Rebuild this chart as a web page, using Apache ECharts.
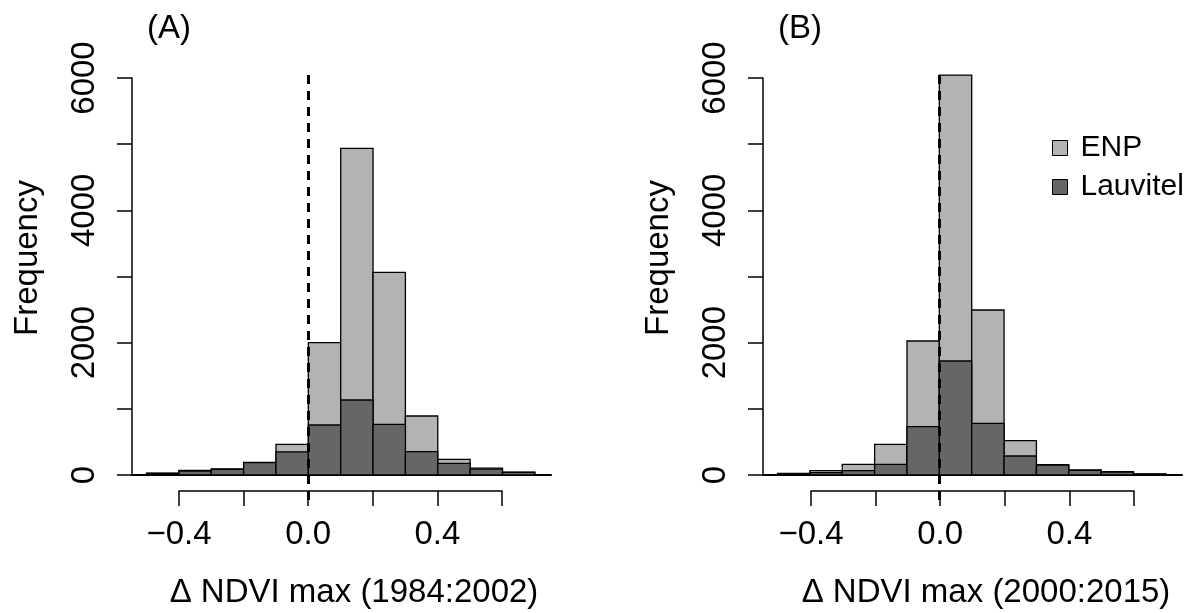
<!DOCTYPE html>
<html>
<head>
<meta charset="utf-8">
<script src="https://cdn.jsdelivr.net/npm/echarts@6/dist/echarts.min.js"></script>
<style>html,body{margin:0;padding:0;background:#fff;}#c{width:1199px;height:613px;}</style>
</head>
<body>
<div id="c"></div>
<script>
// ---- data ----
const binStarts = [-0.5, -0.4, -0.3, -0.2, -0.1, 0.0, 0.1, 0.2, 0.3, 0.4, 0.5, 0.6];
const binWidth = 0.1;
const enpA  = [28, 68, 90, 190, 463, 2000, 4935, 3062, 891, 237, 104, 44];
const lauvA = [22, 58, 84, 186, 350, 755, 1133, 765, 352, 176, 88, 38];
const enpB  = [25, 65, 161, 463, 2024, 6042, 2492, 519, 155, 75, 50, 15];
const lauvB = [18, 35, 65, 161, 730, 1722, 780, 287, 150, 70, 45, 12];
const yTicks = [0, 1000, 2000, 3000, 4000, 5000, 6000];
const yLabelled = [0, 2000, 4000, 6000];
const xTickLabels = { '-4': '\u22120.4', '0': '0.0', '4': '0.4' };
const panelLabels = ['(A)', '(B)'];
const xTitles = ['\u0394 NDVI max (1984:2002)', '\u0394 NDVI max (2000:2015)'];
const seriesNames = ['ENP', 'Lauvitel'];
const colors = ['#b3b3b3', '#666666'];

const FONT = "'Liberation Sans', Arial, Helvetica, sans-serif";
const FS = 33;

function toData(counts) {
  return binStarts.map((b, i) => [b, +(b + binWidth).toFixed(2), counts[i]]);
}

const chart = echarts.init(document.getElementById('c'), null, { renderer: 'canvas' });

const panels = [
  { left: 132, xl: 179, enp: enpA, lauv: lauvA, cx: 354 },
  { left: 763, xl: 811, enp: enpB, lauv: lauvB, cx: 986 }
];

const grid = [], xAxis = [], yAxis = [], series = [], graphic = [];

panels.forEach((p, k) => {
  const g0 = grid.length;
  // data grid (plot region)
  grid.push({ left: p.left, top: 70, width: 419, height: 430 });
  // y-axis-only grid (0..6000)
  grid.push({ left: p.left, top: 78, width: 419, height: 397 });
  // x-axis-only grid (offset axis)
  grid.push({ left: p.xl, top: 490, width: 323, height: 1 });

  xAxis.push({ type: 'value', gridIndex: g0, min: -0.545, max: 0.75,
    axisLine: { show: true, onZero: true, lineStyle: { color: '#000', width: 2 } },
    axisTick: { show: false }, axisLabel: { show: false }, splitLine: { show: false } });
  yAxis.push({ type: 'value', gridIndex: g0, min: -378, max: 6118, show: false, splitLine: { show: false } });

  xAxis.push({ type: 'value', gridIndex: g0 + 1, min: 0, max: 1, show: false });
  yAxis.push({ type: 'value', gridIndex: g0 + 1, min: 0, max: 6000, interval: 1000,
    axisLine: { show: true, lineStyle: { color: '#000', width: 1.5 } },
    axisTick: { show: true, length: 15, inside: false, lineStyle: { color: '#000', width: 1.5 } },
    axisLabel: { rotate: 90, margin: 31, color: '#000', fontSize: FS, fontFamily: FONT,
      formatter: v => yLabelled.includes(v) ? String(v) : '' },
    splitLine: { show: false } });

  xAxis.push({ type: 'value', gridIndex: g0 + 2, min: -0.4, max: 0.6, interval: 0.2, position: 'bottom',
    axisLine: { show: true, lineStyle: { color: '#000', width: 1.5 } },
    axisTick: { show: true, length: 15, inside: false, lineStyle: { color: '#000', width: 1.5 } },
    axisLabel: { margin: 27, color: '#000', fontSize: FS, fontFamily: FONT,
      formatter: v => xTickLabels[String(Math.round(v * 10))] || '' },
    splitLine: { show: false } });
  yAxis.push({ type: 'value', gridIndex: g0 + 2, min: 0, max: 1, show: false });

  const axIdx = xAxis.length - 3;
  [p.enp, p.lauv].forEach((counts, j) => {
    const s = {
      name: seriesNames[j], type: 'custom', xAxisIndex: axIdx, yAxisIndex: axIdx,
      data: toData(counts), encode: { x: [0, 1], y: 2 },
      itemStyle: { color: colors[j], borderColor: '#000', borderWidth: 1.2 },
      z: 2 + j, silent: true,
      renderItem: (params, api) => {
        const a = api.coord([api.value(0), api.value(2)]);
        const b = api.coord([api.value(1), 0]);
        return { type: 'rect',
          shape: { x: a[0], y: a[1], width: b[0] - a[0], height: b[1] - a[1] },
          style: { fill: colors[j], stroke: '#000', lineWidth: 1.3 } };
      }
    };
    if (j === 1) {
      s.markLine = { silent: true, symbol: ['none', 'none'], label: { show: false }, z: 10,
        lineStyle: { color: '#000', width: 3, type: [9, 7] },
        data: [{ xAxis: 0 }] };
    }
    series.push(s);
  });

  graphic.push({ type: 'text', x: p.left + 37, y: 29,
    style: { text: panelLabels[k], font: `${FS}px ${FONT}`, fill: '#000', textAlign: 'center', textVerticalAlign: 'middle' } });
  graphic.push({ type: 'text', x: p.cx, y: 593,
    style: { text: xTitles[k], font: `${FS}px ${FONT}`, fill: '#000', textAlign: 'center', textVerticalAlign: 'middle' } });
  graphic.push({ type: 'text', x: p.left - 104, y: 258, rotation: Math.PI / 2,
    style: { text: 'Frequency', font: `${FS}px ${FONT}`, fill: '#000', textAlign: 'center', textVerticalAlign: 'middle' } });
});

chart.setOption({
  animation: false,
  backgroundColor: '#fff',
  grid, xAxis, yAxis, series, graphic,
  legend: {
    data: seriesNames, orient: 'vertical', left: 1047, top: 127,
    itemWidth: 15, itemHeight: 15, itemGap: 7, icon: 'rect',
    itemStyle: { borderColor: '#000', borderWidth: 1 },
    textStyle: { color: '#000', fontSize: 30, fontFamily: FONT, lineHeight: 32, padding: [0, 0, 0, 8] },
    selectedMode: false
  }
});
</script>
</body>
</html>
